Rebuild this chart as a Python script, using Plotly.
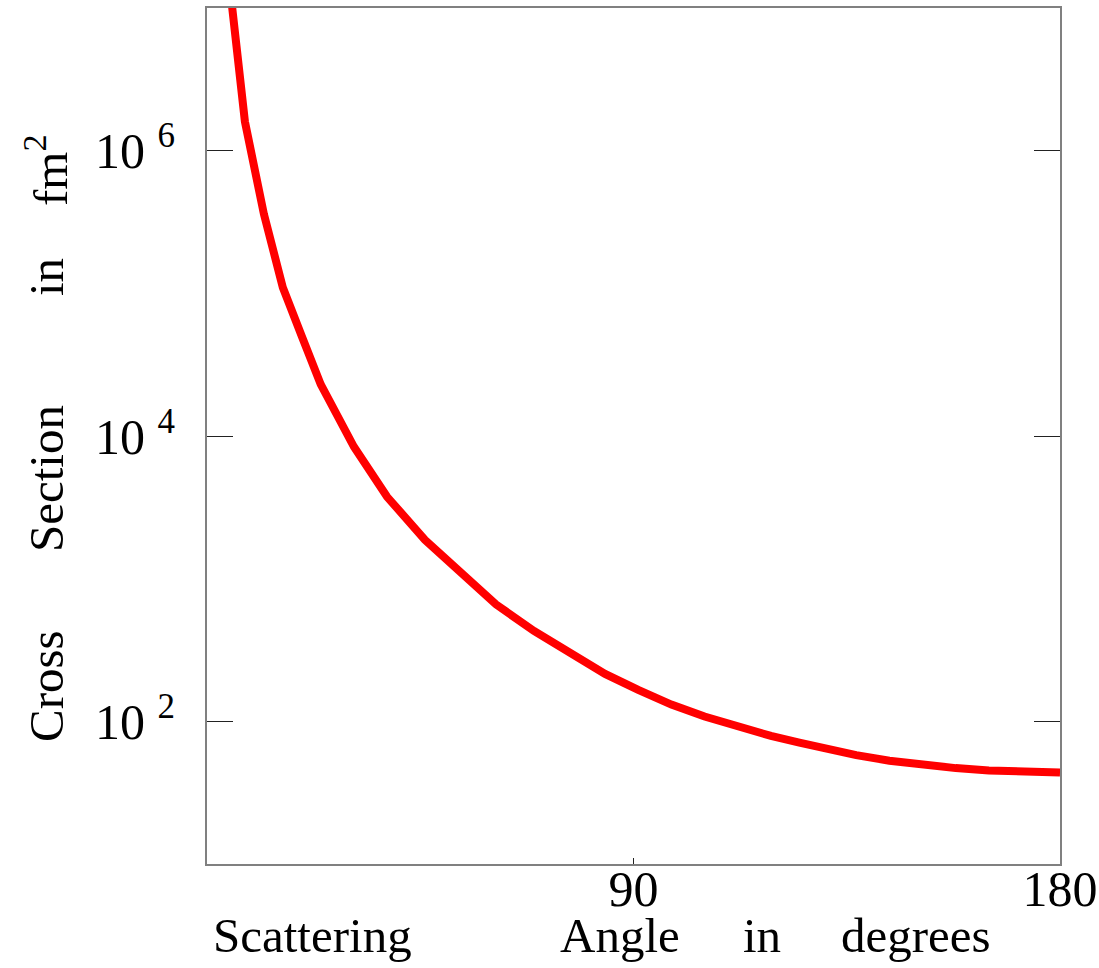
import plotly.graph_objects as go

# Scattering angle (degrees) and differential cross section (fm^2)
angle_deg = [5, 8, 12, 16, 20, 24, 31, 38, 46, 54, 61, 69, 77, 84, 91, 98,
             105, 112, 119, 125, 130, 137, 144, 151, 158, 165, 172, 180]
cross_section = [1.25e7, 1.6e6, 3.6e5, 1.1e5, 5.0e4, 2.3e4, 8.4e3, 3.75e3,
                 1.87e3, 1.05e3, 660, 430, 293, 215, 166, 131,
                 108, 91, 79, 71, 65, 58, 53, 49.5, 47, 45.3, 44.2, 43.8]

x_tick_vals = [90, 180]
x_tick_text = ["90", "180"]
y_tick_vals = [1e2, 1e4, 1e6]
y_tick_text = ["10 <sup>2</sup>", "10 <sup>4</sup>", "10 <sup>6</sup>"]

x_title_words = ["Scattering", "Angle", "in", "degrees"]
y_title_words = ["Cross", "Section", "in", "fm<sup>2</sup>"]

W, H = 1099, 968
L, R, T, B = 207, 39, 8, 104
FONT = "Liberation Serif, Times New Roman, serif"


def px_x(px):
    return (px - L) / (W - L - R)


def px_y(py):
    return (H - B - py) / (H - B - T)


fig = go.Figure()
fig.add_trace(go.Scatter(
    x=angle_deg, y=cross_section, mode="lines",
    line=dict(color="#ff0000", width=8),
    hoverinfo="skip", showlegend=False,
))

# word-by-word axis titles with wide gaps
x_word_centers = [312, 620, 762, 916]
for word, cx in zip(x_title_words, x_word_centers):
    fig.add_annotation(text=word, xref="paper", yref="paper",
                       x=px_x(cx), y=px_y(936), xanchor="center", yanchor="middle",
                       showarrow=False, font=dict(family=FONT, size=49, color="black"))

y_word_centers = [686, 479, 277, 170]
for word, cy in zip(y_title_words, y_word_centers):
    fig.add_annotation(text=word, xref="paper", yref="paper",
                       x=px_x(46), y=px_y(cy), xanchor="center", yanchor="middle",
                       textangle=-90, showarrow=False,
                       font=dict(family=FONT, size=49, color="black"))

fig.update_layout(
    width=W, height=H,
    margin=dict(l=L, r=R, t=T, b=B, pad=0),
    paper_bgcolor="white", plot_bgcolor="white",
    font=dict(family=FONT, size=50, color="black"),
    xaxis=dict(
        range=[0, 180], tickvals=x_tick_vals, ticktext=x_tick_text,
        ticks="inside", ticklen=6, tickwidth=1, tickcolor="#222",
        showline=True, linecolor="#808080", linewidth=2, mirror=True,
        showgrid=False, zeroline=False, automargin=False,
        ticklabelstandoff=-20,
        tickfont=dict(family=FONT, size=50, color="black"),
    ),
    yaxis=dict(
        type="log", range=[1, 7], tickvals=y_tick_vals, ticktext=y_tick_text,
        ticks="inside", ticklen=26, tickwidth=1, tickcolor="#222",
        showline=True, linecolor="#808080", linewidth=2, mirror="ticks",
        showgrid=False, zeroline=False, automargin=False,
        ticklabelstandoff=20,
        tickfont=dict(family=FONT, size=50, color="black"),
    ),
)

fig.write_html("out.html")
